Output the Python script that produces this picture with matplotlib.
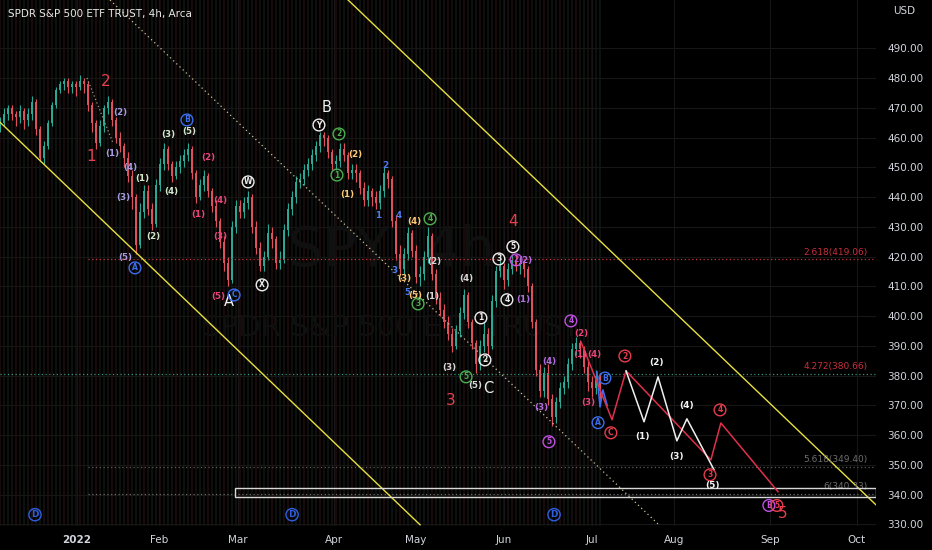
import numpy as np
import matplotlib
matplotlib.use("Agg")
import matplotlib.pyplot as plt
from matplotlib.patches import Rectangle

# ---- price data (4h candles sampled from the chart) ----
START_DAY = -27.0   # days from 2022-01-01 for first candle
STEP = 1.4          # days between candles
first_open = 464
closes = [465, 468, 470, 468, 467, 469, 466, 468, 472, 463,
          453, 457, 465, 471, 476, 478, 479, 477, 478, 477,
          479, 478, 471, 465, 458, 464, 470, 472, 466, 460,
          457, 453, 447, 440, 424, 435, 442, 436, 431, 444,
          451, 456, 451, 447, 450, 452, 454, 456, 448, 440,
          444, 447, 442, 437, 432, 425, 418, 412, 430, 437,
          435, 438, 440, 430, 423, 417, 420, 428, 426, 418,
          419, 429, 436, 440, 445, 446, 449, 451, 454, 457,
          461, 460, 455, 451, 452, 456, 454, 448, 449, 448,
          443, 439, 442, 440, 438, 442, 448, 446, 432, 421,
          416, 421, 428, 422, 413, 414, 420, 427, 414, 406,
          402, 398, 394, 390, 395, 401, 407, 398, 391, 384,
          390, 394, 390, 405, 415, 417, 412, 416, 419, 417,
          418, 416, 410, 398, 382, 375, 381, 372, 366, 371,
          376, 378, 384, 389, 391, 389, 383, 378, 376, 380, 375]
highs = [467, 470, 471, 471, 469, 471, 470, 470, 474, 473,
         464, 459, 466, 472, 477, 479, 480, 480, 479, 479,
         481, 480, 479, 472, 466, 466, 471, 474, 473, 467,
         462, 458, 455, 449, 441, 438, 444, 444, 438, 446,
         453, 458, 457, 452, 452, 454, 456, 458, 457, 449,
         446, 449, 448, 443, 439, 433, 427, 420, 432, 439,
         439, 440, 442, 441, 432, 425, 422, 431, 430, 427,
         422, 431, 438, 442, 447, 448, 451, 453, 456, 459,
         462, 462, 461, 456, 454, 458, 458, 455, 451, 451,
         449, 445, 444, 443, 442, 444, 450, 449, 447, 434,
         424, 423, 430, 429, 424, 417, 422, 430, 428, 416,
         408, 404, 400, 396, 397, 403, 409, 408, 399, 392,
         392, 398, 396, 407, 417, 420, 418, 418, 421, 421,
         420, 419, 417, 411, 399, 384, 383, 384, 374, 373,
         378, 380, 386, 391, 393, 392, 390, 385, 380, 382, 381]
lows = [462, 464, 466, 466, 464, 465, 463, 464, 466, 461,
        452, 451, 456, 464, 470, 475, 476, 475, 475, 474,
        476, 475, 469, 462, 456, 457, 462, 468, 464, 458,
        455, 450, 445, 436, 421, 423, 433, 434, 429, 430,
        442, 449, 449, 445, 446, 448, 450, 452, 446, 438,
        439, 442, 440, 435, 430, 423, 415, 410, 411, 428,
        433, 433, 436, 428, 421, 415, 415, 419, 423, 416,
        416, 418, 427, 434, 438, 443, 444, 447, 449, 452,
        455, 457, 453, 449, 449, 450, 452, 446, 446, 445,
        441, 437, 437, 437, 436, 436, 440, 443, 430, 419,
        414, 414, 419, 420, 411, 410, 412, 418, 412, 404,
        400, 396, 392, 388, 389, 393, 399, 396, 389, 381,
        382, 388, 387, 389, 403, 413, 409, 410, 414, 415,
        414, 413, 408, 396, 380, 373, 373, 370, 363, 364,
        369, 374, 376, 382, 387, 386, 381, 375, 373, 374, 372]

# ---- projected wave paths (day, price) ----
red_path_days = [176.4, 187.3, 192.2, 221.9, 225.4, 245.4]
red_path_prices = [391.4, 365.2, 381.6, 351.7, 364.1, 341.0]
white_path_days = [192.2, 198.5, 203.4, 210.0, 213.5, 223.0]
white_path_prices = [381.6, 364.5, 379.6, 358.1, 365.5, 348.4]
blue_path_days = [182.0, 183.1, 184.1, 185.6]
blue_path_prices = [381.3, 369.5, 375.2, 370.0]

# channel lines (day, price)
lower_channel = ([-27.0, 120.1], [465.2, 329.9])
upper_channel = ([94.9, 279.7], [506.2, 336.6])
mid_channel = ([11.55, 203.7], [506.2, 329.9])
small_trend = ([3.5, 12.6], [480.0, 458.2])

# fib levels
fib_names = ["2.618(419.06)", "4.272(380.66)", "5.618(349.40)", "6(340.33)"]
fib_values = [419.06, 380.66, 349.40, 340.33]
fib_start = [3.9, -27.0, 3.9, 3.9]
box_days = (55.3, 279.7)
box_prices = (339.3, 342.3)

# month ticks
month_labels = ["2022", "Feb", "Mar", "Apr", "May", "Jun", "Jul", "Aug", "Sep", "Oct"]
month_days = [0, 28.7, 56.4, 90, 118.7, 149.5, 180.3, 209, 242.6, 273]
price_ticks = [330, 340, 350, 360, 370, 380, 390, 400, 410, 420, 430, 440,
               450, 460, 470, 480, 490]

# wave labels: text, day, price, style
wave_labels = [
    ("1", 4.9, 453.5, "big"), ("2", 10.2, 478.7, "big"), ("3", 130.9, 371.5, "big"),
    ("4", 152.6, 431.7, "big"), ("5", 247.1, 333.7, "big"),
    ("A", 53.2, 404.8, "letter"), ("B", 87.5, 470.0, "letter"), ("C", 143.9, 375.6, "letter"),
    ("(2)", 15.1, 468.3, "lav"), ("(1)", 12.3, 454.8, "lav"), ("(4)", 18.6, 449.8, "lav"),
    ("(3)", 16.1, 440.0, "lav"), ("(5)", 16.8, 419.6, "lav"),
    ("A", 20.3, 416.2, "c_blue"), ("B", 38.5, 465.9, "c_blue"), ("C", 55.0, 407.1, "c_blue"),
    ("B", 184.8, 379.2, "c_blue"), ("A", 182.4, 364.2, "c_blue"),
    ("(1)", 22.8, 446.1, "paleg"), ("(2)", 26.6, 426.6, "paleg"), ("(3)", 31.9, 460.9, "paleg"),
    ("(4)", 32.9, 441.7, "paleg"), ("(5)", 39.2, 461.9, "paleg"),
    ("(2)", 45.9, 453.2, "pink"), ("(1)", 42.4, 434.3, "pink"), ("(4)", 50.1, 439.0, "pink"),
    ("(3)", 50.1, 426.6, "pink"), ("(5)", 49.4, 406.5, "pink"),
    ("(2)", 176.4, 394.0, "pink"), ("(1)", 176.1, 387.0, "pink"), ("(4)", 181.0, 387.0, "pink"),
    ("(3)", 178.9, 370.9, "pink"),
    ("W", 59.9, 445.1, "c_white"), ("X", 64.8, 410.5, "c_white"), ("Y", 84.7, 464.2, "c_white"),
    ("1", 141.4, 399.4, "c_white"), ("2", 142.8, 385.3, "c_white"), ("3", 147.7, 419.2, "c_white"),
    ("4", 150.5, 405.5, "c_white"), ("5", 152.6, 423.3, "c_white"),
    ("2", 91.7, 461.2, "c_green"), ("1", 91.0, 447.4, "c_green"), ("4", 123.6, 432.7, "c_green"),
    ("3", 119.4, 404.1, "c_green"), ("5", 136.2, 379.6, "c_green"),
    ("(2)", 97.3, 454.2, "orange"), ("(1)", 94.5, 440.7, "orange"), ("(4)", 118.0, 431.7, "orange"),
    ("(3)", 114.5, 412.5, "orange"), ("(5)", 118.3, 406.8, "orange"),
    ("2", 107.8, 450.5, "blued"), ("1", 105.4, 433.7, "blued"), ("4", 112.7, 433.7, "blued"),
    ("3", 111.0, 415.2, "blued"), ("5", 115.5, 407.8, "blued"),
    ("(2)", 125.0, 418.2, "gray"), ("(1)", 124.3, 406.5, "gray"), ("(3)", 130.2, 382.6, "gray"),
    ("(4)", 136.2, 412.5, "gray"), ("(5)", 139.3, 376.6, "gray"),
    ("(2)", 156.8, 418.6, "purple"), ("(1)", 156.1, 405.5, "purple"), ("(4)", 165.2, 384.9, "purple"),
    ("(3)", 162.4, 369.2, "purple"),
    ("2", 153.7, 418.9, "c_purple"), ("4", 172.9, 398.4, "c_purple"), ("5", 165.2, 357.8, "c_purple"),
    ("B", 242.2, 336.4, "c_purple"),
    ("C", 186.9, 360.8, "c_red"), ("2", 191.8, 386.6, "c_red"), ("3", 221.6, 346.7, "c_red"),
    ("4", 225.1, 368.5, "c_red"), ("5", 245.0, 336.4, "c_red"),
    ("(1)", 198.1, 359.5, "white"), ("(2)", 203.0, 384.3, "white"), ("(3)", 209.7, 352.8, "white"),
    ("(4)", 213.5, 369.9, "white"), ("(5)", 222.6, 343.1, "white"),
    ("D", -14.7, 333.3, "c_blue_d"), ("D", 75.3, 333.3, "c_blue_d"), ("D", 167.0, 333.3, "c_blue_d"),
]

STYLES = {
    "big": dict(color="#e8404f", size=11, weight="normal", circle=False),
    "letter": dict(color="#f0f0f0", size=10.5, weight="normal", circle=False),
    "lav": dict(color="#a99be0", size=6.3, weight="bold", circle=False),
    "paleg": dict(color="#d4e8cc", size=6.3, weight="bold", circle=False),
    "pink": dict(color="#e8457a", size=6.3, weight="bold", circle=False),
    "orange": dict(color="#ffc875", size=6.3, weight="bold", circle=False),
    "blued": dict(color="#4a7cf0", size=6.3, weight="bold", circle=False),
    "gray": dict(color="#d8d8d8", size=6.3, weight="bold", circle=False),
    "purple": dict(color="#b46ee0", size=6.3, weight="bold", circle=False),
    "white": dict(color="#f4f4f4", size=6.5, weight="bold", circle=False),
    "c_blue": dict(color="#3d6ef0", size=5.5, weight="bold", circle=True),
    "c_blue_d": dict(color="#2f5fe0", size=6.5, weight="bold", circle=True),
    "c_white": dict(color="#eeeeee", size=5.5, weight="bold", circle=True),
    "c_green": dict(color="#4cb050", size=5.5, weight="bold", circle=True),
    "c_purple": dict(color="#c050e0", size=5.5, weight="bold", circle=True),
    "c_red": dict(color="#e83c4c", size=5.5, weight="bold", circle=True),
}

BG = "#000000"
UP = "#2aa893"
DOWN = "#e0505c"

fig = plt.figure(figsize=(9.32, 5.5), dpi=100, facecolor=BG)
ax = fig.add_axes([0, 0.0442, 0.9399, 0.9558], facecolor=BG)
ax.set_xlim(-26.95, 279.7)
ax.set_ylim(329.6, 506.2)

n = len(closes)
xs = START_DAY + STEP * np.arange(n)
opens = [first_open] + closes[:-1]

# background session stripes
stripe_palette = ["#1e0e0b", "#121212", "#0f1611", "#181010"]
stripe_cols = [stripe_palette[i % 4] for i in range(n)]
ax.vlines(xs, 329.6, 506.2, colors=stripe_cols, lw=1.2, zorder=0)

# grid
for p in price_ticks:
    ax.axhline(p, color="#161616", lw=0.8, zorder=0.5)
for d in month_days:
    ax.axvline(d, color="#161616", lw=0.8, zorder=0.5)

# watermark
ax.text(110, 422, "SPY, 4h", color="#101010", fontsize=40, ha="center", va="center", zorder=0.6)
ax.text(110, 396, "SPDR S&P 500 ETF TRUST", color="#101010", fontsize=21, ha="center",
        va="center", zorder=0.6)

# candles
cols = [UP if c >= o else DOWN for o, c in zip(opens, closes)]
ax.vlines(xs, lows, highs, colors=cols, lw=0.8, zorder=2)
bottoms = [min(o, c) for o, c in zip(opens, closes)]
heights = [max(abs(c - o), 0.4) for o, c in zip(opens, closes)]
ax.bar(xs, heights, bottom=bottoms, width=0.75, color=cols, linewidth=0, zorder=2.1)

# channels
ax.plot(*lower_channel, color="#e8e040", lw=1.0, zorder=3)
ax.plot(*upper_channel, color="#e8e040", lw=1.0, zorder=3)
ax.plot(*mid_channel, color="#c8c49a", lw=0.9, ls=(0, (1, 2.5)), zorder=3)
ax.plot(*small_trend, color="#9a9a80", lw=0.9, ls=(0, (1, 2)), zorder=3)

# fib levels
fib_cols = ["#c8303c", "#3a8f7a", "#5a5a5a", "#6a6a6a"]
fib_text_cols = ["#c8303c", "#c8303c", "#6e6e6e", "#6e6e6e"]
for name, v, s, lc, tc in zip(fib_names, fib_values, fib_start, fib_cols, fib_text_cols):
    ax.plot([s, 279.7], [v, v], color=lc, lw=0.9, ls=(0, (1, 2)), zorder=2.5)
    ax.text(276.9, v + 0.9, name, color=tc, fontsize=6.5, ha="right", va="bottom", zorder=3)

ax.add_patch(Rectangle((box_days[0], box_prices[0]), box_days[1] - box_days[0],
                       box_prices[1] - box_prices[0], fill=False, ec="#d8d8d8", lw=1.0,
                       zorder=3))

# projections
ax.plot(blue_path_days, blue_path_prices, color="#3d6ef0", lw=1.2, zorder=4)
ax.plot(red_path_days, red_path_prices, color="#e0304a", lw=1.1, zorder=4)
ax.plot(white_path_days, white_path_prices, color="#f0f0f0", lw=1.1, zorder=4)

# wave labels
for txt, d, p, st in wave_labels:
    s = STYLES[st]
    kw = dict(color=s["color"], fontsize=s["size"], fontweight=s["weight"],
              ha="center", va="center", zorder=5)
    if s["circle"]:
        kw["bbox"] = dict(boxstyle="circle,pad=0.18", fc="none", ec=s["color"], lw=1.0)
    ax.text(d, p, txt, **kw)

# axes
for sp in ax.spines.values():
    sp.set_visible(False)
ax.yaxis.tick_right()
ax.set_yticks(price_ticks)
ax.set_yticklabels([f"{p:.2f}" for p in price_ticks])
ax.tick_params(axis="y", length=0, pad=8, labelsize=7.5, labelcolor="#d1d4dc")
ax.set_xticks(month_days)
ax.set_xticklabels(month_labels)
ax.tick_params(axis="x", length=0, pad=7, labelsize=7.5, labelcolor="#d1d4dc")
ax.get_xticklabels()[0].set_fontweight("bold")

fig.text(8 / 932, 1 - 14 / 550, "SPDR S&P 500 ETF TRUST, 4h, Arca", color="#e8e8e8",
         fontsize=7.5, ha="left", va="center")
fig.text(893 / 932, 1 - 11 / 550, "USD", color="#d1d4dc", fontsize=7.5, ha="left", va="center")

fig.savefig("out.png", dpi=100, facecolor=BG)
